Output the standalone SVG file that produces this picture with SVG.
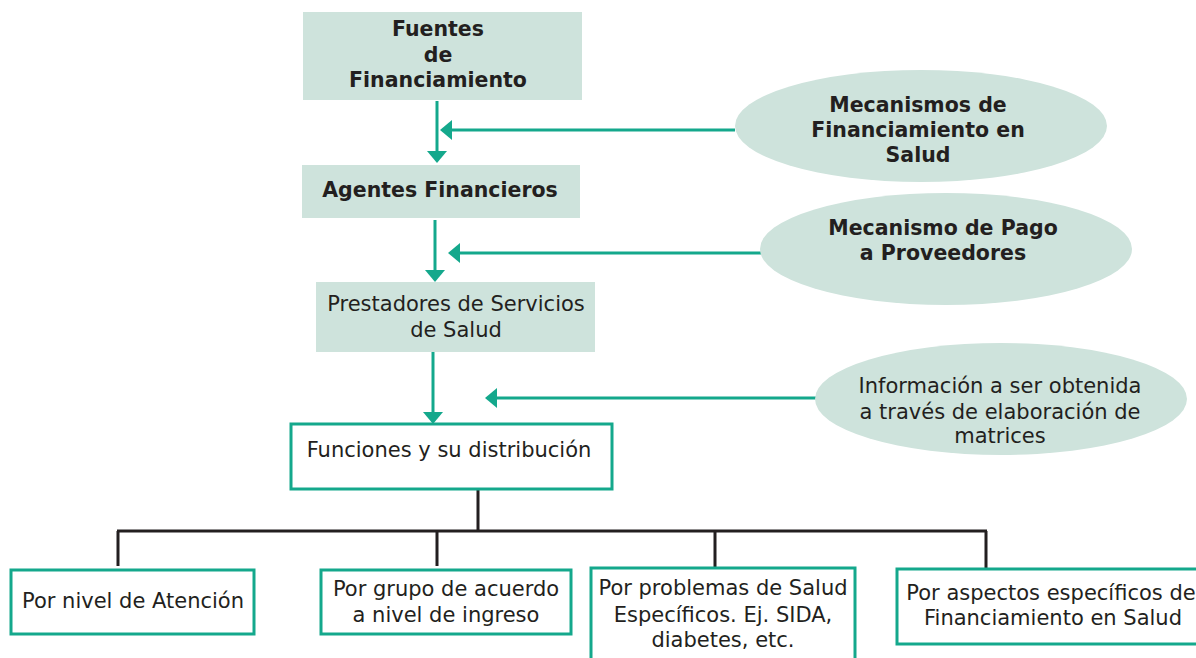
<svg xmlns="http://www.w3.org/2000/svg" width="1196" height="658" viewBox="0 0 1196 658">
<style>
.fill{fill:#cee3dc;stroke:none}
.box{fill:#fff;stroke:#14a88c;stroke-width:3}
.t{font-family:"DejaVu Sans",sans-serif;font-size:21px;fill:#231f20;text-anchor:middle}
.b{font-weight:bold;font-size:20.5px}
.arr{stroke:#14a88c;stroke-width:3;fill:none;marker-end:url(#ah)}
.blk{stroke:#231f20;stroke-width:3;fill:none}
</style>
<defs>
<marker id="ah" viewBox="0 0 12 20" refX="4" refY="10" markerWidth="12" markerHeight="20" markerUnits="userSpaceOnUse" orient="auto">
<path d="M0,0 L12,10 L0,20 Z" fill="#14a88c"/>
</marker>
</defs>
<rect width="1196" height="658" fill="#fff"/>
<g id="connectors">
<path class="arr" d="M437,101 V155"/>
<path class="arr" d="M735,130 H448"/>
<path class="arr" d="M435,220 V274"/>
<path class="arr" d="M762,253 H456"/>
<path class="arr" d="M433,352 V416"/>
<path class="arr" d="M818,398 H493"/>
<path class="blk" d="M478,489 V531 M117,531 H987 M118,531 V566 M437,531 V566 M715,531 V568 M986,531 V568"/>
</g>
<g id="fuentes">
<rect class="fill" x="303" y="12" width="279" height="88"/>
<text class="t b" x="438" y="36">Fuentes</text>
<text class="t b" x="438" y="62">de</text>
<text class="t b" x="438" y="87">Financiamiento</text>
</g>
<g id="agentes">
<rect class="fill" x="302" y="165" width="278" height="53"/>
<text class="t b" x="440" y="197">Agentes Financieros</text>
</g>
<g id="prestadores">
<rect class="fill" x="316" y="282" width="279" height="70"/>
<text class="t" x="456" y="311">Prestadores de Servicios</text>
<text class="t" x="456" y="337">de Salud</text>
</g>
<g id="funciones">
<rect class="box" x="291" y="424" width="321" height="65"/>
<text class="t" x="449" y="457">Funciones y su distribución</text>
</g>
<g id="mecanismos-financiamiento">
<ellipse class="fill" cx="921" cy="126" rx="186" ry="56"/>
<text class="t b" x="918" y="112">Mecanismos de</text>
<text class="t b" x="918" y="137">Financiamiento en</text>
<text class="t b" x="918" y="162">Salud</text>
</g>
<g id="mecanismo-pago">
<ellipse class="fill" cx="946" cy="249" rx="186" ry="56"/>
<text class="t b" x="943" y="235">Mecanismo de Pago</text>
<text class="t b" x="943" y="260">a Proveedores</text>
</g>
<g id="informacion">
<ellipse class="fill" cx="1001" cy="399" rx="186" ry="56"/>
<text class="t" x="1000" y="393">Información a ser obtenida</text>
<text class="t" x="1000" y="419">a través de elaboración de</text>
<text class="t" x="1000" y="443">matrices</text>
</g>
<g id="nivel-atencion">
<rect class="box" x="11" y="570" width="243" height="64"/>
<text class="t" x="133" y="608">Por nivel de Atención</text>
</g>
<g id="grupo-ingreso">
<rect class="box" x="321" y="570" width="250" height="64"/>
<text class="t" x="446" y="596">Por grupo de acuerdo</text>
<text class="t" x="446" y="622">a nivel de ingreso</text>
</g>
<g id="problemas-salud">
<rect class="box" x="591" y="568" width="264" height="110"/>
<text class="t" x="723" y="595">Por problemas de Salud</text>
<text class="t" x="723" y="622">Específicos. Ej. SIDA,</text>
<text class="t" x="723" y="647">diabetes, etc.</text>
</g>
<g id="aspectos-financiamiento">
<rect class="box" x="897" y="569" width="310" height="75"/>
<text class="t" x="1051" y="600">Por aspectos específicos de</text>
<text class="t" x="1053" y="625">Financiamiento en Salud</text>
</g>
</svg>
